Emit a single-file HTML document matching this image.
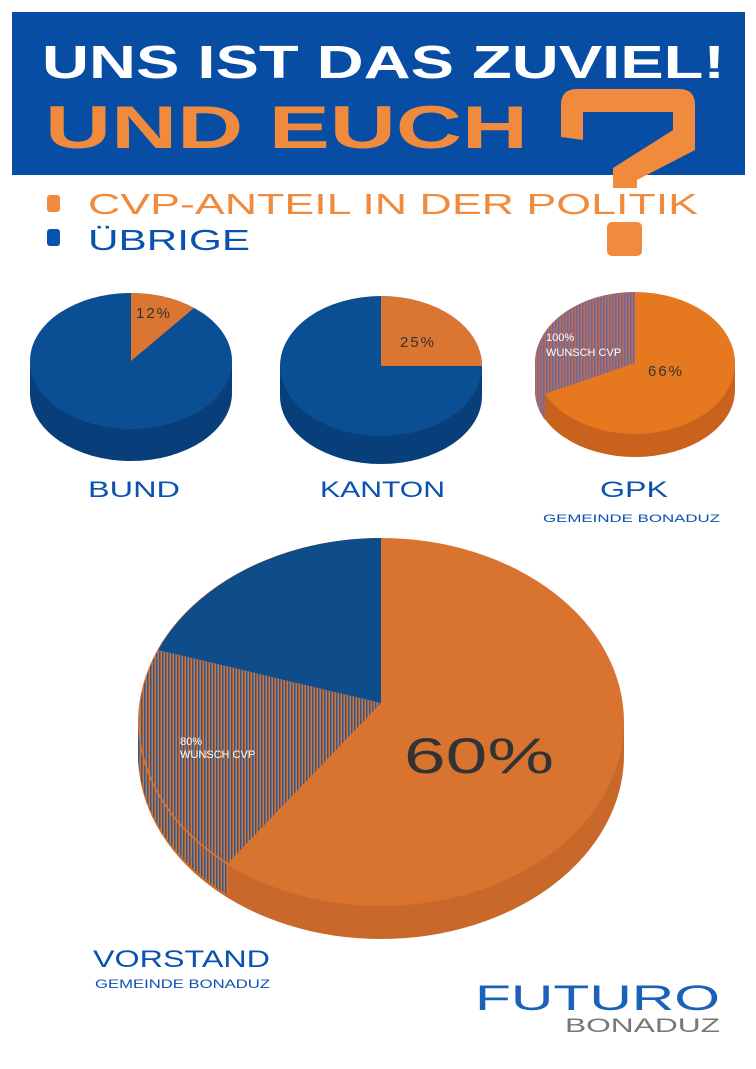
<!DOCTYPE html>
<html><head><meta charset="utf-8"><style>
html,body{margin:0;padding:0;background:#fff}
svg{display:block}
text{font-family:"Liberation Sans",sans-serif}
</style></head><body>
<svg width="756" height="1069" viewBox="0 0 756 1069" xmlns="http://www.w3.org/2000/svg">
<defs>
<pattern id="h" width="3" height="10" patternUnits="userSpaceOnUse"><rect width="3" height="10" fill="#d8732f"/><rect width="1.5" height="10" fill="#2c5a94"/></pattern>
<pattern id="hg" width="3" height="10" patternUnits="userSpaceOnUse"><rect width="3" height="10" fill="#c06a50"/><rect width="1.5" height="10" fill="#6a6aa0"/></pattern>
</defs>
<rect x="12" y="12" width="733" height="163" fill="#064da3"/>
<text x="42" y="78" font-size="46" font-weight="bold" fill="#fff" textLength="683" lengthAdjust="spacingAndGlyphs">UNS IST DAS ZUVIEL!</text>
<text x="45" y="148" font-size="60" font-weight="bold" fill="#f08a3c" textLength="483" lengthAdjust="spacingAndGlyphs">UND EUCH</text>
<path d="M561,137 L561,105 Q561,89 577,89 L679,89 Q695,89 695,105 L695,150 L637,180 L637,188 L613,188 L613,168 L673,130 L673,112 L583,112 L583,140 Z" fill="#f08a3c"/>
<rect x="607" y="222" width="35" height="34" rx="5" fill="#f08a3c"/>
<rect x="47" y="195" width="13" height="17" rx="3" fill="#f08a3c"/>
<text x="88" y="214" font-size="29" fill="#f08a3c" textLength="610" lengthAdjust="spacingAndGlyphs">CVP-ANTEIL IN DER POLITIK</text>
<rect x="47" y="229" width="13" height="17" rx="3" fill="#0a52b0"/>
<text x="88" y="250" font-size="29" fill="#0a52b0" textLength="162" lengthAdjust="spacingAndGlyphs">ÜBRIGE</text>

<!-- BUND -->
<ellipse cx="131" cy="393" rx="101" ry="68" fill="#083f7a"/>
<rect x="30" y="361" width="202" height="32" fill="#083f7a"/>
<ellipse cx="131" cy="361" rx="101" ry="68" fill="#0a4f94"/>
<path d="M131,361 L131,293 A101,68 0 0 1 194,308 Z" fill="#db7632"/>
<text x="136" y="318" font-size="15" fill="#333" letter-spacing="2">12%</text>
<text x="88" y="497" font-size="22" fill="#0a52b0" textLength="92" lengthAdjust="spacingAndGlyphs">BUND</text>

<!-- KANTON -->
<ellipse cx="381" cy="396" rx="101" ry="68" fill="#083f7a"/>
<rect x="280" y="366" width="202" height="30" fill="#083f7a"/>
<ellipse cx="381" cy="366" rx="101" ry="70" fill="#0a4f94"/>
<path d="M381,366 L381,296 A101,70 0 0 1 482,366 Z" fill="#db7632"/>
<text x="400" y="347" font-size="15" fill="#333" letter-spacing="2">25%</text>
<text x="320" y="497" font-size="22" fill="#0a52b0" textLength="125" lengthAdjust="spacingAndGlyphs">KANTON</text>

<!-- GPK -->
<ellipse cx="635" cy="390" rx="100" ry="67" fill="#c9621c"/>
<rect x="535" y="363" width="200" height="27" fill="#c9621c"/>
<path d="M535,363 L535,390 A100,67 0 0 0 545,420 L545,393 A100,71 0 0 1 535,363 Z" fill="url(#hg)"/>
<ellipse cx="635" cy="363" rx="100" ry="71" fill="#e6781f"/>
<path d="M635,363 L635,292 A100,71 0 0 0 545,394 Z" fill="url(#hg)"/>
<text x="546" y="341" font-size="11" fill="#fff">100%</text>
<text x="546" y="356" font-size="11" fill="#fff">WUNSCH CVP</text>
<text x="648" y="376" font-size="15" fill="#333" letter-spacing="2">66%</text>
<text x="600" y="497" font-size="22" fill="#0a52b0" textLength="68" lengthAdjust="spacingAndGlyphs">GPK</text>
<text x="543" y="522" font-size="11" fill="#0a52b0" textLength="177" lengthAdjust="spacingAndGlyphs">GEMEINDE BONADUZ</text>

<!-- VORSTAND -->
<ellipse cx="381" cy="755" rx="243" ry="184" fill="#c8682a"/>
<rect x="138" y="722" width="486" height="33" fill="#c8682a"/>
<path d="M138,722 L138,755 A243,184 0 0 0 228,895 L228,863 A243,184 0 0 1 138,722 Z" fill="url(#h)"/>
<ellipse cx="381" cy="722" rx="243" ry="184" fill="#d8742f"/>
<path d="M381,703 L381,538 A243,184 0 0 0 158,650 Z" fill="#0e4d8a"/>
<path d="M381,703 L158,650 A243,184 0 0 0 228,863 Z" fill="url(#h)"/>
<text x="180" y="745" font-size="11" fill="#fff">80%</text>
<text x="180" y="758" font-size="11" fill="#fff">WUNSCH CVP</text>
<text x="404" y="773" font-size="50" fill="#333" textLength="150" lengthAdjust="spacingAndGlyphs">60%</text>
<text x="93" y="967" font-size="24" fill="#0a52b0" textLength="177" lengthAdjust="spacingAndGlyphs">VORSTAND</text>
<text x="95" y="988" font-size="12" fill="#0a52b0" textLength="175" lengthAdjust="spacingAndGlyphs">GEMEINDE BONADUZ</text>
<text x="475" y="1010" font-size="35" fill="#1a62b8" textLength="245" lengthAdjust="spacingAndGlyphs">FUTURO</text>
<text x="565" y="1032" font-size="19" fill="#777" textLength="155" lengthAdjust="spacingAndGlyphs">BONADUZ</text>
</svg>
</body></html>
